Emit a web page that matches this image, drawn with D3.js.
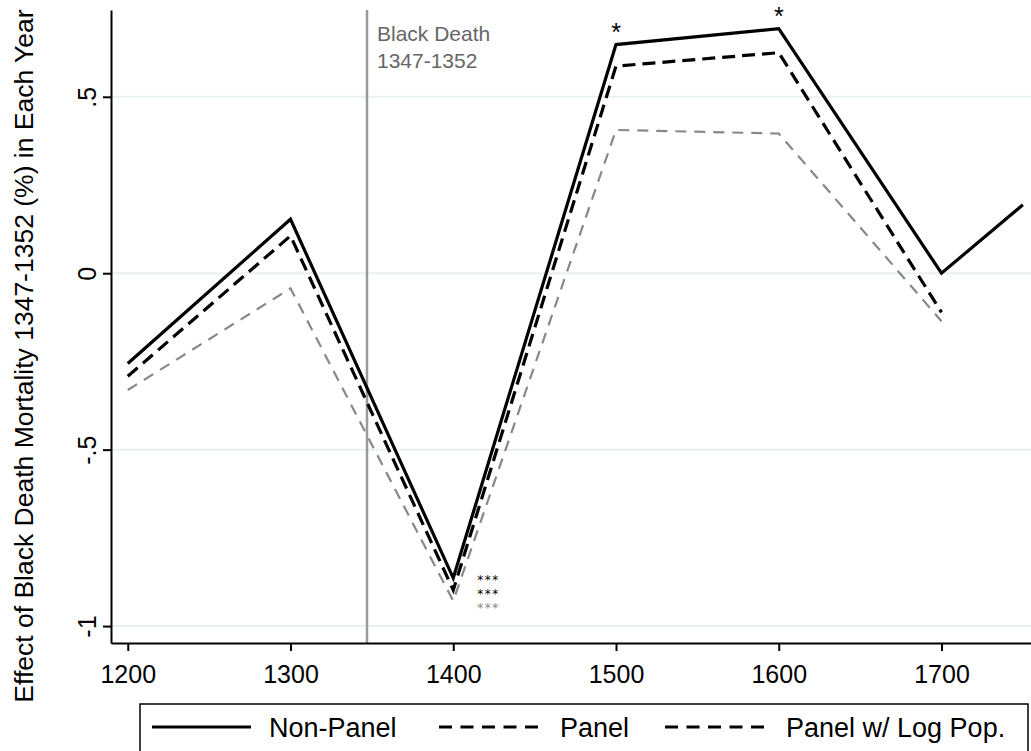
<!DOCTYPE html>
<html>
<head>
<meta charset="utf-8">
<script src="https://cdn.jsdelivr.net/npm/d3@7"></script>
<style>
  body { margin: 0; background: #fff; }
  svg { display: block; font-family: 'Liberation Sans', Arial, sans-serif; }
</style>
</head>
<body>
<div id="chart"></div>
<script>
// years on the x axis
const years = [1200, 1300, 1400, 1500, 1600, 1700, 1750]
// series values
const nonPanel = [-0.256, 0.153, -0.864, 0.648, 0.693, 0.0, 0.194]
const panel = [-0.292, 0.106, -0.898, 0.587, 0.625, -0.111]
const panelLogPop = [-0.331, -0.043, -0.929, 0.406, 0.396, -0.136]
const xTicks = [1200, 1300, 1400, 1500, 1600, 1700]
const yTicks = [-1, -0.5, 0, 0.5]
const yTickLabels = ['-1', '-.5', '0', '.5']
const legendLabels = ['Non-Panel', 'Panel', 'Panel w/ Log Pop.']
const blackDeath = 1347

const width = 1031
const height = 751
const margin = { top: 10, right: 0, bottom: 108, left: 111 }
const font = "'Liberation Sans', Arial, sans-serif"

const svg = d3.select('#chart').append('svg')
  .attr('width', width)
  .attr('height', height)

const x = d3.scaleLinear()
  .domain([1189.7, 1755])
  .range([margin.left, width - margin.right])

const y = d3.scaleLinear()
  .domain([-1.048, 0.746])
  .range([height - margin.bottom, margin.top])

// grid lines
svg.append('g')
  .selectAll('line')
  .data(yTicks)
  .join('line')
  .attr('x1', margin.left)
  .attr('x2', width - margin.right)
  .attr('y1', d => y(d))
  .attr('y2', d => y(d))
  .attr('stroke', '#eaf0f2')
  .attr('stroke-width', 2)

// black death marker
svg.append('line')
  .attr('x1', x(blackDeath))
  .attr('x2', x(blackDeath))
  .attr('y1', margin.top)
  .attr('y2', height - margin.bottom)
  .attr('stroke', '#9a9a9a')
  .attr('stroke-width', 2.5)

svg.append('text')
  .attr('y', 41)
  .attr('fill', '#666')
  .style('font-size', '21px')
  .selectAll('tspan')
  .data(['Black Death', '1347-1352'])
  .join('tspan')
  .attr('x', x(blackDeath) + 10)
  .attr('dy', (d, i) => i === 0 ? 0 : 27)
  .text(d => d)

// x axis
const xAxis = d3.axisBottom(x)
  .tickValues(xTicks)
  .tickFormat(d3.format('d'))
  .tickSize(8)
  .tickSizeOuter(0)
const gx = svg.append('g')
  .attr('transform', `translate(0,${height - margin.bottom})`)
  .call(xAxis)
gx.select('.domain').attr('stroke', '#000').attr('stroke-width', 2)
gx.selectAll('.tick line').attr('stroke', '#000').attr('stroke-width', 2)
gx.selectAll('.tick text')
  .attr('fill', '#000')
  .attr('y', 40)
  .attr('dy', null)
  .style('font-size', '25px')
  .style('font-family', font)

// y axis
const yAxis = d3.axisLeft(y)
  .tickValues(yTicks)
  .tickFormat((d, i) => yTickLabels[i])
  .tickSize(8)
  .tickSizeOuter(0)
const gy = svg.append('g')
  .attr('transform', `translate(${margin.left},0)`)
  .call(yAxis)
gy.select('.domain').attr('stroke', '#000').attr('stroke-width', 2)
gy.selectAll('.tick line').attr('stroke', '#000').attr('stroke-width', 2)
gy.selectAll('.tick text')
  .attr('fill', '#000')
  .attr('x', null)
  .attr('dy', null)
  .attr('text-anchor', 'middle')
  .attr('transform', 'translate(-15,0) rotate(-90)')
  .style('font-size', '25px')
  .style('font-family', font)

// y axis title
svg.append('text')
  .attr('transform', 'translate(33,356) rotate(-90)')
  .attr('text-anchor', 'middle')
  .attr('fill', '#000')
  .style('font-size', '26.5px')
  .text('Effect of Black Death Mortality 1347-1352 (%) in Each Year')

// lines
const line = d3.line()
  .x(d => x(d[0]))
  .y(d => y(d[1]))

const series = [
  { values: panelLogPop, color: '#888', width: 2.2, dash: '11,8' },
  { values: panel, color: '#000', width: 3.2, dash: '13,7' },
  { values: nonPanel, color: '#000', width: 3.2, dash: null }
]

svg.append('g')
  .selectAll('path')
  .data(series)
  .join('path')
  .attr('d', s => line(s.values.map((v, i) => [years[i], v])))
  .attr('fill', 'none')
  .attr('stroke', s => s.color)
  .attr('stroke-width', s => s.width)
  .attr('stroke-dasharray', s => s.dash)
  .attr('stroke-linejoin', 'miter')

// significance stars above the 1500 and 1600 peaks
const starsTop = [
  { year: 1500, value: nonPanel[3] },
  { year: 1600, value: nonPanel[4] }
]
svg.append('g')
  .selectAll('text')
  .data(starsTop)
  .join('text')
  .attr('x', d => x(d.year))
  .attr('y', d => y(d.value) - 4)
  .attr('text-anchor', 'middle')
  .attr('fill', '#000')
  .style('font-size', '25px')
  .text('*')

// stacked stars next to the 1400 trough
const starsLowColors = ['#000', '#000', '#888']
svg.append('g')
  .selectAll('text')
  .data(starsLowColors)
  .join('text')
  .attr('x', x(1400) + 24)
  .attr('y', (d, i) => y(nonPanel[2]) + 6 + i * 14)
  .attr('fill', d => d)
  .style('font-family', "'DejaVu Sans', sans-serif")
  .style('font-size', '12px')
  .style('letter-spacing', '1.5px')
  .text('***')

// legend
svg.append('rect')
  .attr('x', 140)
  .attr('y', 704)
  .attr('width', 888)
  .attr('height', 60)
  .attr('fill', 'none')
  .attr('stroke', '#000')
  .attr('stroke-width', 1.5)

const legendItems = [
  { label: legendLabels[0], x0: 152, tx: 269, dash: null },
  { label: legendLabels[1], x0: 439, tx: 560, dash: '13,8.5' },
  { label: legendLabels[2], x0: 665, tx: 786, dash: '13,8.5' }
]
const legend = svg.append('g')
legend.selectAll('line')
  .data(legendItems)
  .join('line')
  .attr('x1', d => d.x0)
  .attr('x2', d => d.x0 + 99)
  .attr('y1', 727)
  .attr('y2', 727)
  .attr('stroke', '#000')
  .attr('stroke-width', 3.2)
  .attr('stroke-dasharray', d => d.dash)
legend.selectAll('text')
  .data(legendItems)
  .join('text')
  .attr('x', d => d.tx)
  .attr('y', 737)
  .attr('fill', '#000')
  .style('font-size', '27px')
  .text(d => d.label)
</script>
</body>
</html>
